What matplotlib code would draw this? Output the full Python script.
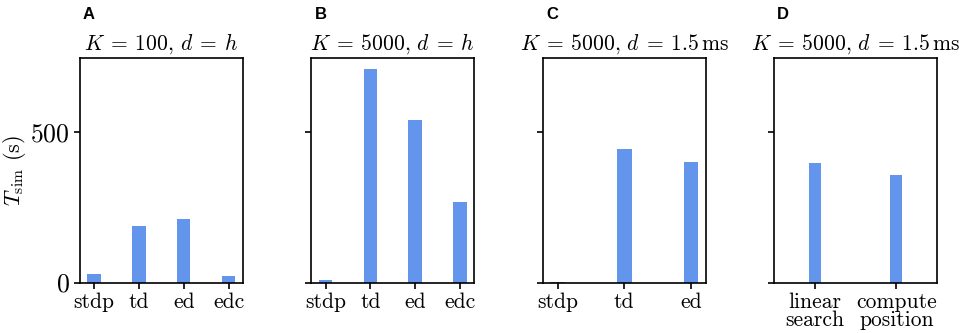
import matplotlib
matplotlib.use('Agg')
import matplotlib.pyplot as plt

# valores (segundos)
labels_a = ['stdp', 'td', 'ed', 'edc']
values_a = [29, 186, 212, 21]
labels_b = ['stdp', 'td', 'ed', 'edc']
values_b = [9, 710, 540, 268]
labels_c = ['stdp', 'td', 'ed']
values_c = [3, 444, 400]
labels_d = ['linear\nsearch', 'compute\nposition']
values_d = [398, 357]

titles = [r'$K\:=\:100,\, d\:=\:h$', r'$K\:=\:5000,\, d\:=\:h$',
          r'$K\:=\:5000,\, d\:=\:1.5\,\mathrm{ms}$', r'$K\:=\:5000,\, d\:=\:1.5\,\mathrm{ms}$']
panels = ['A', 'B', 'C', 'D']
widths = [0.3, 0.3, 0.22, 0.15]

plt.rcParams['font.family'] = 'serif'
plt.rcParams['font.serif'] = ['cmr10']
plt.rcParams['mathtext.fontset'] = 'cm'
plt.rcParams['axes.formatter.use_mathtext'] = True
plt.rcParams['axes.linewidth'] = 1.2

fig, axes = plt.subplots(1, 4, figsize=(9.61, 3.33), dpi=100, sharey=True)
fig.subplots_adjust(left=80/961, right=937/961, top=1-58/333, bottom=1-282.5/333, wspace=0.423)

data = [(labels_a, values_a), (labels_b, values_b), (labels_c, values_c), (labels_d, values_d)]
for i, ax in enumerate(axes):
    labs, vals = data[i]
    x = list(range(len(vals)))
    ax.bar(x, vals, width=widths[i], color='cornflowerblue')
    ax.set_xticks(x)
    ax.set_xticklabels(labs, fontsize=15.5, linespacing=0.85)
    ax.set_title(titles[i], fontsize=15.5)
    ax.tick_params(axis='both', width=1.2, length=4)
    ax.tick_params(axis='y', labelsize=18.5)
    ax.set_yticks([0, 500])
    pos = ax.get_position()
    fig.text(pos.x0 + 3/961, 1 - 7/333, panels[i], fontsize=12, fontweight='bold',
             family='Liberation Sans', va='top', ha='left')

axes[3].set_xlim(-0.5, 1.5)
axes[0].set_ylabel(r'$T_\mathrm{sim}$ (s)', fontsize=16)
axes[0].yaxis.set_label_coords(-0.32, 0.5)

fig.savefig('out.png', dpi=100)
